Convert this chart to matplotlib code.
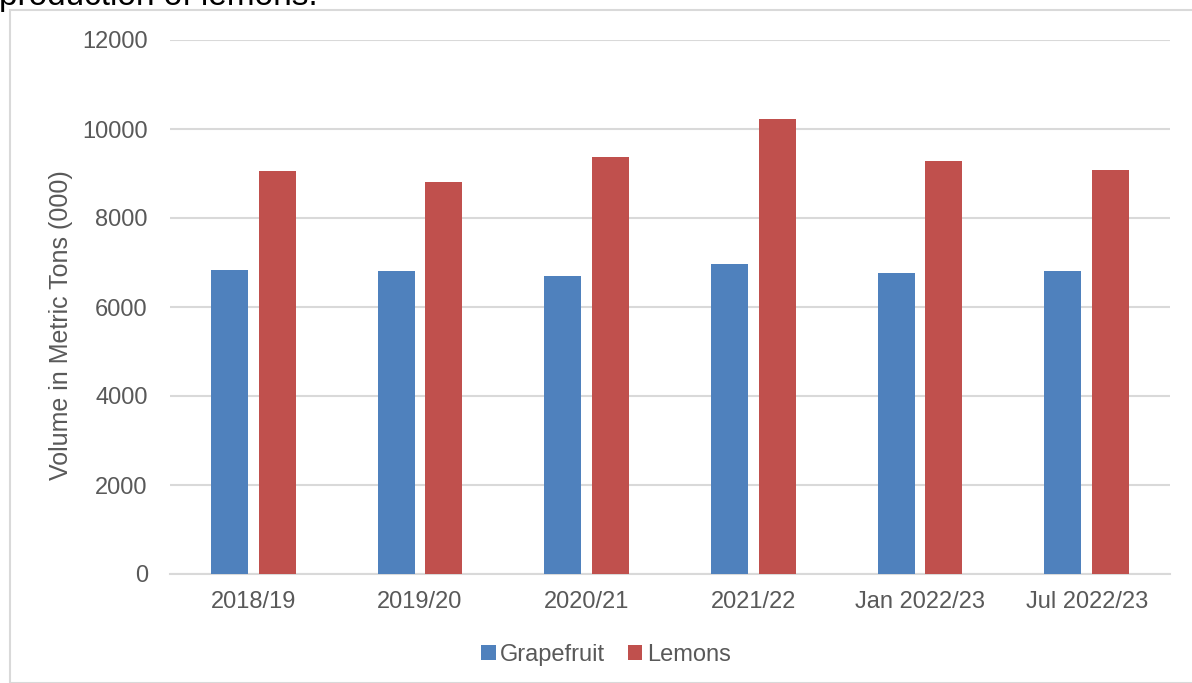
import numpy as np
import matplotlib.pyplot as plt
from matplotlib.patches import Rectangle

plt.rcParams['font.family'] = ['Liberation Sans', 'DejaVu Sans']

# volumes in metric tons (000)
seasons = ['2018/19', '2019/20', '2020/21', '2021/22', 'Jan 2022/23', 'Jul 2022/23']
grapefruit = [6825, 6805, 6700, 6975, 6765, 6815]
lemons = [9045, 8815, 9370, 10215, 9280, 9080]

blue = '#4F81BD'
red = '#C0504D'
txt = '#595959'
grid = '#D9D9D9'

fig = plt.figure(figsize=(11.92, 6.83), dpi=100)
W, H = 1192, 683

# chart frame, partly cut by the image edges
fig.patches.append(Rectangle((10 / W, 0), 1.2, 1 - 10 / H, transform=fig.transFigure,
                             fill=False, edgecolor=grid, linewidth=1.5))
fig.text(-0.001, 1 - 5 / H, 'production of lemons.', fontsize=24, color='black',
         ha='left', va='baseline')

ax = fig.add_axes([170 / W, 1 - 574 / H, 1000 / W, 534 / H])
x = np.arange(len(seasons))
w = 0.222
ax.bar(x - 0.143, grapefruit, w, color=blue, label='Grapefruit', zorder=3)
ax.bar(x + 0.143, lemons, w, color=red, label='Lemons', zorder=3)

ax.set_xlim(-0.5, len(seasons) - 0.5)
ax.set_ylim(0, 12000)
ax.set_yticks(range(0, 12001, 2000))
ax.set_xticks(x)
ax.set_xticklabels(seasons)
ax.yaxis.grid(True, color=grid, linewidth=1.5, zorder=0)
ax.tick_params(length=0, labelsize=17, colors=txt)
ax.tick_params(axis='y', pad=16)
ax.tick_params(axis='x', pad=12)
for s in ['top', 'right', 'left']:
    ax.spines[s].set_visible(False)
ax.spines['bottom'].set_color(grid)
ax.spines['bottom'].set_linewidth(1.5)
ax.set_ylabel('Volume in Metric Tons (000)', fontsize=18, color=txt)
ax.yaxis.set_label_coords(-0.097, 0.466)

# legend sits centred on the whole frame, not on the plot area
ax.legend(loc='center', bbox_to_anchor=(0.436, -0.152), ncol=2, frameon=False,
          fontsize=17, labelcolor=txt, handlelength=0.6, handleheight=0.6,
          handletextpad=0.2, columnspacing=0.95)

fig.savefig('out.png', dpi=100)
